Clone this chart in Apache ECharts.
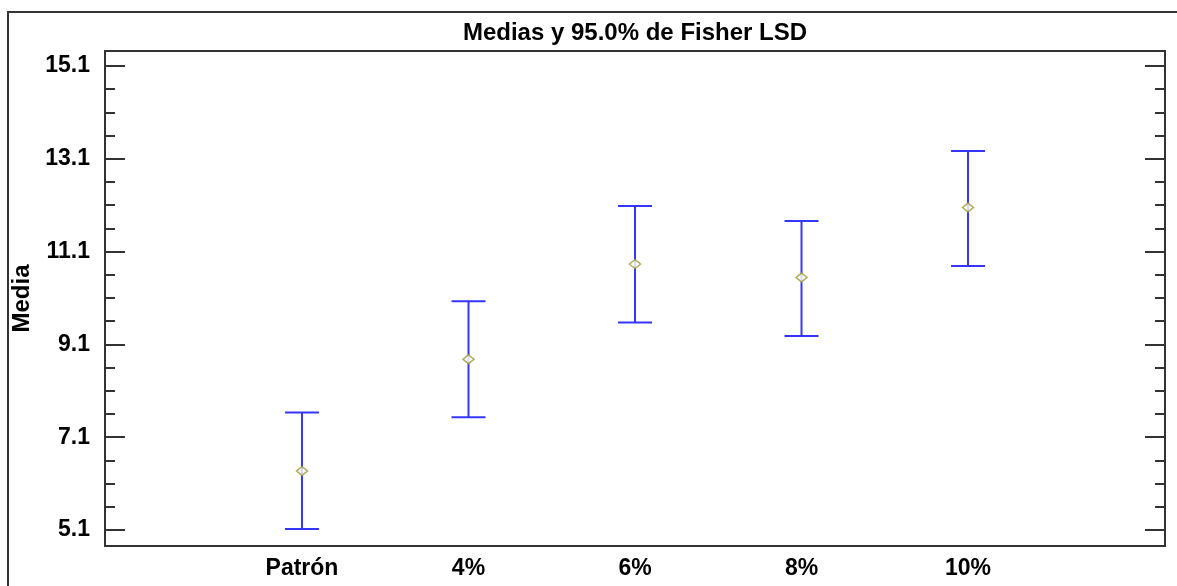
<!DOCTYPE html>
<html>
<head>
<meta charset="utf-8">
<script src="https://cdn.jsdelivr.net/npm/echarts@6/dist/echarts.min.js"></script>
<style>html,body{margin:0;padding:0;background:#fff;}#c{width:1177px;height:586px;}</style>
</head>
<body>
<div id="c"></div>
<script>
var categories = ['Patrón', '4%', '6%', '8%', '10%'];
var means = [6.37, 8.78, 10.83, 10.54, 12.05];
var lower = [5.12, 7.53, 9.57, 9.28, 10.79];
var upper = [7.63, 10.03, 12.08, 11.76, 13.27];
var yMajorTicks = [5.1, 7.1, 9.1, 11.1, 13.1, 15.1];
var yMinorTicks = [5.6, 6.1, 6.6, 7.6, 8.1, 8.6, 9.6, 10.1, 10.6, 11.6, 12.1, 12.6, 13.6, 14.1, 14.6];
var titleText = 'Medias y 95.0% de Fisher LSD';
var yName = 'Media';

var FONT = 'Liberation Sans';
var YMIN = 4.755, YMAX = 15.423;
var XMIN = -0.183, XMAX = 6.183;
var xPos = categories.map(function (c, i) { return i + 1; });

function yAxisDef(gridIndex, pos, ticks, len, showLabel) {
  return {
    type: 'value', gridIndex: gridIndex, position: pos, offset: 0, min: YMIN, max: YMAX,
    splitLine: { show: false },
    axisLine: { show: true, onZero: false, lineStyle: { color: '#333', width: 2 } },
    axisTick: { show: true, inside: true, length: len, customValues: ticks, lineStyle: { color: '#333', width: 2 } },
    axisLabel: showLabel ? {
      show: true, customValues: ticks, margin: 15,
      color: '#000', fontFamily: FONT, fontWeight: 'bold', fontSize: 23,
      formatter: function (v) { return v.toFixed(1); }
    } : { show: false },
    name: (showLabel ? yName : ''),
    nameLocation: 'middle', nameRotate: 90, nameGap: 68,
    nameTextStyle: { color: '#000', fontFamily: FONT, fontWeight: 'bold', fontSize: 24 }
  };
}

var gridBox = { left: 105, top: 51, right: 12, bottom: 40 };

var chart = echarts.init(document.getElementById('c'), null, { renderer: 'canvas' });
chart.setOption({
  animation: false,
  backgroundColor: '#fff',
  title: {
    text: titleText, left: 630, top: 16, textAlign: 'center',
    textStyle: { color: '#000', fontFamily: FONT, fontWeight: 'bold', fontSize: 24 }
  },
  graphic: [{
    type: 'polyline', silent: true,
    shape: { points: [[8, 600], [8, 12], [1190, 12]] },
    style: { stroke: '#333', lineWidth: 2, fill: null }
  }],
  grid: [
    Object.assign({ show: true, borderColor: '#333', borderWidth: 2, backgroundColor: '#fff' }, gridBox),
    Object.assign({ show: false }, gridBox)
  ],
  xAxis: [{
    type: 'value', gridIndex: 0, min: XMIN, max: XMAX,
    splitLine: { show: false },
    axisLine: { show: true, onZero: false, lineStyle: { color: '#333', width: 2 } },
    axisTick: { show: false },
    axisLabel: {
      customValues: xPos, margin: 11,
      color: '#000', fontFamily: FONT, fontWeight: 'bold', fontSize: 23,
      formatter: function (v) { return categories[Math.round(v) - 1] || ''; }
    }
  }, {
    type: 'value', gridIndex: 1, min: XMIN, max: XMAX, show: false
  }],
  yAxis: [
    yAxisDef(0, 'left', yMajorTicks, 20, true),
    yAxisDef(0, 'right', yMajorTicks, 20, false),
    yAxisDef(1, 'left', yMinorTicks, 10, false),
    yAxisDef(1, 'right', yMinorTicks, 10, false)
  ],
  series: [
    {
      type: 'custom', xAxisIndex: 0, yAxisIndex: 0, silent: true,
      data: xPos.map(function (x, i) { return [x, lower[i], upper[i]]; }),
      renderItem: function (params, api) {
        var lo = api.coord([api.value(0), api.value(1)]);
        var hi = api.coord([api.value(0), api.value(2)]);
        var hw = 17;
        var st = { stroke: '#3535ff', lineWidth: 2 };
        return {
          type: 'group', children: [
            { type: 'line', shape: { x1: lo[0], y1: lo[1], x2: hi[0], y2: hi[1] }, style: st },
            { type: 'line', shape: { x1: lo[0] - hw, y1: lo[1], x2: lo[0] + hw, y2: lo[1] }, style: st },
            { type: 'line', shape: { x1: hi[0] - hw, y1: hi[1], x2: hi[0] + hw, y2: hi[1] }, style: st }
          ]
        };
      },
      z: 2
    },
    {
      type: 'scatter', xAxisIndex: 0, yAxisIndex: 0, silent: true,
      data: xPos.map(function (x, i) { return [x, means[i]]; }),
      symbol: 'diamond', symbolSize: [11, 9],
      itemStyle: { color: '#fff', borderColor: '#9a9a2a', borderWidth: 1.5 },
      z: 3
    }
  ]
});
</script>
</body>
</html>
